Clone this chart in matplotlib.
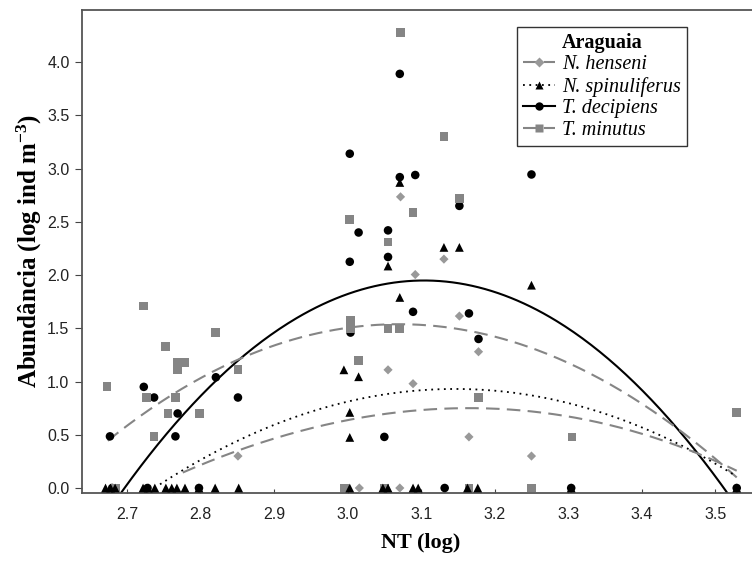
import numpy as np
import matplotlib
matplotlib.use("Agg")
import matplotlib.pyplot as plt
from matplotlib.lines import Line2D

plt.rcParams["mathtext.fontset"] = "custom"
plt.rcParams["mathtext.rm"] = "Liberation Serif"
plt.rcParams["mathtext.bf"] = "Liberation Serif:bold"
plt.rcParams["mathtext.it"] = "Liberation Serif:italic"

# ---- scatter data (x = NT log, y = abundance log ind m-3) ----
dec_x = [2.677, 2.723, 2.737, 2.769, 2.766, 2.821, 2.851, 3.003, 3.003, 3.004, 3.015, 3.050,
         3.055, 3.055, 3.071, 3.071, 3.092, 3.089, 3.152, 3.165, 3.178, 3.250,
         2.680, 2.728, 2.798, 3.132, 3.304, 3.529]
dec_y = [0.485, 0.95, 0.85, 0.70, 0.485, 1.04, 0.85, 3.14, 2.125, 1.46, 2.40, 0.48,
         2.42, 2.17, 3.89, 2.92, 2.94, 1.655, 2.65, 1.64, 1.40, 2.945,
         0.0, 0.0, 0.0, 0.0, 0.0, 0.0]

spi_x = [3.071, 3.131, 3.152, 3.055, 3.071, 2.995, 3.015, 3.003, 3.003, 3.250,
         2.671, 2.678, 2.684, 2.722, 2.729, 2.738, 2.753, 2.761, 2.768, 2.779, 2.798,
         2.820, 2.852, 3.003, 3.048, 3.055, 3.089, 3.096, 3.163, 3.177, 3.304, 3.529]
spi_y = [2.87, 2.26, 2.26, 2.085, 1.79, 1.11, 1.045, 0.71, 0.475, 1.905,
         0, 0, 0, 0, 0, 0, 0, 0, 0, 0, 0,
         0, 0, 0, 0, 0, 0, 0, 0, 0, 0, 0]

min_x = [2.673, 2.723, 2.727, 2.737, 2.752, 2.769, 2.779, 2.769, 2.766, 2.756, 2.799, 2.821, 2.851,
         3.072, 3.131, 3.152, 3.089, 3.003, 3.055, 3.004, 3.004, 3.055, 3.071, 3.015, 3.178,
         3.305, 3.529, 2.685, 2.996, 3.050, 3.165, 3.250]
min_y = [0.95, 1.71, 0.85, 0.485, 1.33, 1.18, 1.18, 1.11, 0.85, 0.70, 0.70, 1.46, 1.11,
         4.275, 3.30, 2.72, 2.59, 2.52, 2.31, 1.57, 1.50, 1.50, 1.50, 1.20, 0.85,
         0.48, 0.71, 0, 0, 0, 0, 0]

hen_x = [2.851, 3.072, 3.131, 3.092, 3.152, 3.178, 3.055, 3.089, 3.165, 3.250, 3.016, 3.071]
hen_y = [0.30, 2.735, 2.15, 2.005, 1.615, 1.28, 1.11, 0.98, 0.48, 0.30, 0, 0]

# ---- fitted trend curves ----
dec_cx = [2.695, 2.822, 2.928, 2.976, 3.111, 3.179, 3.247, 3.315, 3.383, 3.451, 3.517]
dec_cy = [-0.035, 1.045, 1.58, 1.755, 1.947, 1.875, 1.70, 1.45, 1.01, 0.545, -0.05]

min_cx = [2.674, 2.851, 2.928, 2.980, 3.089, 3.166, 3.247, 3.315, 3.383, 3.451, 3.529]
min_cy = [0.45, 1.186, 1.40, 1.49, 1.537, 1.49, 1.33, 1.11, 0.857, 0.545, 0.106]

spi_cx = [2.745, 2.851, 2.928, 2.976, 3.089, 3.148, 3.247, 3.315, 3.383, 3.451, 3.514]
spi_cy = [0.044, 0.42, 0.67, 0.78, 0.91, 0.94, 0.873, 0.76, 0.61, 0.42, 0.17]

hen_cx = [2.776, 2.810, 2.856, 2.928, 2.980, 3.089, 3.157, 3.247, 3.315, 3.383, 3.451, 3.505]
hen_cy = [0.15, 0.247, 0.35, 0.507, 0.632, 0.732, 0.748, 0.71, 0.64, 0.56, 0.40, 0.23]

xticks = [2.7, 2.8, 2.9, 3.0, 3.1, 3.2, 3.3, 3.4, 3.5]
yticks = [0.0, 0.5, 1.0, 1.5, 2.0, 2.5, 3.0, 3.5, 4.0]

SERIF = ["Liberation Serif", "DejaVu Serif"]
SANS = ["Liberation Sans", "DejaVu Sans"]
GRAY = "#858585"
DGRAY = "#999999"
DASH = (0, (6.5, 3.5))
DOT = (0, (1, 2.5))

fig = plt.figure(figsize=(7.52, 5.61), dpi=100)
ax = fig.add_axes([82 / 752, 1 - 493 / 561, 1 - 82 / 752 + 0.01, (493 - 10) / 561])

def curve(cx, cy, deg, x0, x1):
    p = np.polyfit(cx, cy, deg)
    xs = np.linspace(x0, x1, 300)
    return xs, np.polyval(p, xs)

xs, ys = curve(dec_cx, dec_cy, 2, 2.66, 3.54)
ax.plot(xs, ys, color="black", lw=1.5, zorder=2)
xs, ys = curve(min_cx, min_cy, 3, min_cx[0], min_cx[-1])
ax.plot(xs, ys, color=GRAY, lw=1.5, ls=DASH, zorder=2)
xs, ys = curve(spi_cx, spi_cy, 3, spi_cx[0], 3.527)
ax.plot(xs, ys, color="black", lw=1.3, ls=DOT, zorder=2)
xs, ys = curve(hen_cx, hen_cy, 3, hen_cx[0], 3.529)
ax.plot(xs, ys, color=GRAY, lw=1.5, ls=DASH, zorder=2)

ax.scatter(hen_x, hen_y, marker="D", s=22, color=DGRAY, edgecolor="none", zorder=3, clip_on=False)
ax.scatter(dec_x, dec_y, marker="o", s=38, color="black", edgecolor="none", zorder=4, clip_on=False)
ax.scatter(min_x, min_y, marker="s", s=40, color=GRAY, edgecolor="none", zorder=5, clip_on=False)
ax.scatter(spi_x, spi_y, marker="^", s=40, color="black", edgecolor="none", zorder=6, clip_on=False)

ax.set_xlim(2.639, 3.560)
ax.set_ylim(-0.047, 4.49)
ax.set_xticks(xticks)
ax.set_xticklabels([f"{v:.1f}" for v in xticks], family=SANS, fontsize=11.5, color="#222222")
ax.set_yticks(yticks)
ax.set_yticklabels([f"{v:.1f}" for v in yticks], family=SANS, fontsize=11.5, color="#222222")
ax.tick_params(axis="x", direction="in", length=3, pad=10, color="#444444")
ax.tick_params(axis="y", direction="out", length=5, pad=4, color="#444444")

for side in ["left", "top", "bottom"]:
    ax.spines[side].set_color("#555555")
    ax.spines[side].set_linewidth(1.3)
ax.spines["right"].set_visible(False)

ax.set_xlabel("NT (log)", family=SERIF, fontweight="bold", fontsize=16, labelpad=8)
ax.set_ylabel("Abundância (log ind m$^{\\mathbf{-3}}$)", family=SERIF, fontweight="bold",
              fontsize=18, labelpad=2)

handles = [
    Line2D([], [], color=GRAY, lw=1.5, ls=DASH, marker="D", ms=5, mfc=DGRAY, mec="none"),
    Line2D([], [], color="black", lw=1.3, ls=DOT, marker="^", ms=6, mfc="black", mec="none"),
    Line2D([], [], color="black", lw=1.5, ls="-", marker="o", ms=6, mfc="black", mec="none"),
    Line2D([], [], color=GRAY, lw=1.5, ls=DASH, marker="s", ms=6, mfc=GRAY, mec="none"),
]
labels = ["N. henseni", "N. spinuliferus", "T. decipiens", "T. minutus"]
leg = ax.legend(handles, labels, loc="upper left", bbox_to_anchor=(0.642, 0.965),
                borderaxespad=0, frameon=True, fancybox=False, edgecolor="#333333",
                framealpha=1, handlelength=1.6, handletextpad=0.35, labelspacing=0.12,
                borderpad=0.3, prop={"family": SERIF, "style": "italic", "size": 14.5},
                title="Araguaia", title_fontproperties={"family": SERIF, "weight": "bold", "size": 14.5})
leg.get_frame().set_linewidth(1.0)
leg.set_zorder(10)

fig.savefig("out.png", dpi=100)
